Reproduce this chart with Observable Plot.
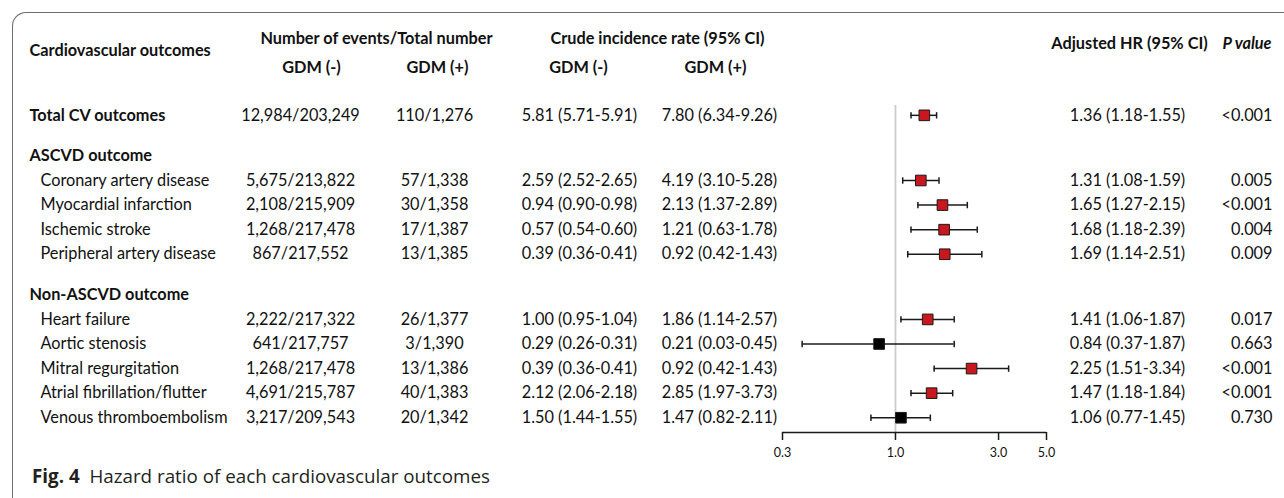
<!DOCTYPE html>
<html>
<head>
<meta charset="utf-8">
<script src="https://cdn.jsdelivr.net/npm/d3@7"></script>
<script src="https://cdn.jsdelivr.net/npm/@observablehq/plot@0.6"></script>
<style>
  html, body { margin: 0; padding: 0; background: #fff; width: 1284px; height: 498px; overflow: hidden; }
  #frame { position: absolute; left: 12px; top: 12px; width: 1400px; height: 620px;
           border-top: 1.5px solid #6b6b6b; border-left: 1.5px solid #6b6b6b; border-top-left-radius: 14px; }
  #chart { position: absolute; left: 0; top: 0; }
  #caption { position: absolute; left: 32px; top: 463px; font-family: "Open Sans", sans-serif; font-size: 18.8px; color: #231f20; white-space: pre; }
  #caption b { font-weight: 700; }
</style>
</head>
<body>
<div id="frame"></div>
<div id="chart"></div>
<div id="caption"><b>Fig. 4</b>  Hazard ratio of each cardiovascular outcomes</div>
<script>
// ---------- data ----------
const labels = ["Total CV outcomes", "ASCVD outcome", "Coronary artery disease", "Myocardial infarction",
  "Ischemic stroke", "Peripheral artery disease", "Non-ASCVD outcome", "Heart failure", "Aortic stenosis",
  "Mitral regurgitation", "Atrial fibrillation/flutter", "Venous thromboembolism"];
const kinds = ["total", "header", "item", "item", "item", "item", "header", "item", "item", "item", "item", "item"];
const eventsNeg = ["12,984/203,249", "", "5,675/213,822", "2,108/215,909", "1,268/217,478", "867/217,552", "",
  "2,222/217,322", "641/217,757", "1,268/217,478", "4,691/215,787", "3,217/209,543"];
const eventsPos = ["110/1,276", "", "57/1,338", "30/1,358", "17/1,387", "13/1,385", "",
  "26/1,377", "3/1,390", "13/1,386", "40/1,383", "20/1,342"];
const crudeNeg = ["5.81 (5.71-5.91)", "", "2.59 (2.52-2.65)", "0.94 (0.90-0.98)", "0.57 (0.54-0.60)", "0.39 (0.36-0.41)", "",
  "1.00 (0.95-1.04)", "0.29 (0.26-0.31)", "0.39 (0.36-0.41)", "2.12 (2.06-2.18)", "1.50 (1.44-1.55)"];
const crudePos = ["7.80 (6.34-9.26)", "", "4.19 (3.10-5.28)", "2.13 (1.37-2.89)", "1.21 (0.63-1.78)", "0.92 (0.42-1.43)", "",
  "1.86 (1.14-2.57)", "0.21 (0.03-0.45)", "0.92 (0.42-1.43)", "2.85 (1.97-3.73)", "1.47 (0.82-2.11)"];
const hr = [1.36, null, 1.31, 1.65, 1.68, 1.69, null, 1.41, 0.84, 2.25, 1.47, 1.06];
const hrLo = [1.18, null, 1.08, 1.27, 1.18, 1.14, null, 1.06, 0.37, 1.51, 1.18, 0.77];
const hrHi = [1.55, null, 1.59, 2.15, 2.39, 2.51, null, 1.87, 1.87, 3.34, 1.84, 1.45];
const pValues = ["<0.001", "", "0.005", "<0.001", "0.004", "0.009", "", "0.017", "0.663", "<0.001", "<0.001", "0.730"];
const xTicks = [0.3, 1, 3, 5];
const xDomain = [0.3, 5];
const headers = {
  outcome: "Cardiovascular outcomes",
  events: "Number of events/Total number",
  crude: "Crude incidence rate (95% CI)",
  neg: "GDM (-)",
  pos: "GDM (+)",
  hr: "Adjusted HR (95% CI)",
  p: "P value"
};

// ---------- layout (code) ----------
const pos = [];
let p = 0;
kinds.forEach((k, i) => { if (i > 0) p += (k === "header") ? 1.65 : 1; pos.push(p); });
const rows = labels.map((label, i) => ({
  label, kind: kinds[i], y: pos[i],
  evNeg: eventsNeg[i], evPos: eventsPos[i], crNeg: crudeNeg[i], crPos: crudePos[i],
  hr: hr[i], lo: hrLo[i], hi: hrHi[i], p: pValues[i],
  hrText: hr[i] == null ? "" : `${hr[i].toFixed(2)} (${hrLo[i].toFixed(2)}-${hrHi[i].toFixed(2)})`,
  sig: hrLo[i] != null && (hrLo[i] > 1 || hrHi[i] < 1)
}));
const forest = rows.filter(d => d.hr != null);
const boldRows = rows.filter(d => d.kind !== "item");
const itemRows = rows.filter(d => d.kind === "item");
const yMin = pos[0] - 0.4, yMax = pos[pos.length - 1] + 0.6;

const W = 1284, H = 462, MT = 105, MB = 30;
const FONT = "Lato";
const FS = 16.3;
const INK = "#111";

const capSymbol = { draw(ctx, size) { const h = Math.sqrt(size / Math.PI); ctx.moveTo(0, -h); ctx.lineTo(0, h); } };

function header(text, dx, yPix, opts = {}) {
  return Plot.text([text], { text: d => d, frameAnchor: "top-left", dx, dy: yPix - MT,
    fontWeight: "bold", fontSize: FS, fill: INK, ...opts });
}

const chart = Plot.plot({
  width: W, height: H,
  marginTop: MT, marginBottom: MB, marginLeft: 0, marginRight: 0,
  style: { fontFamily: FONT, fontSize: FS + "px", color: INK, background: "transparent" },
  x: { type: "log", domain: xDomain, range: [782, 1046] },
  y: { domain: [yMin, yMax], reverse: true, axis: null },
  marks: [
    Plot.ruleX([1], { stroke: "#cccccc", strokeWidth: 1.8 }),
    Plot.ruleY([yMax], { x1: xDomain[0], x2: xDomain[1], stroke: "#1a1a1a", strokeWidth: 1.5 }),
    Plot.axisX({ ticks: xTicks, tickFormat: d3.format(".1f"), tickSize: 8, tickPadding: 8,
      fontSize: 12.5, label: null, anchor: "bottom", stroke: "#1a1a1a", strokeWidth: 1.5 }),
    // error bars
    Plot.ruleY(forest, { y: "y", x1: "lo", x2: "hi", stroke: "#1a1a1a", strokeWidth: 1.5 }),
    Plot.dot(forest, { x: "lo", y: "y", symbol: capSymbol, r: 3.2, fill: "none", stroke: "#1a1a1a", strokeWidth: 1.5 }),
    Plot.dot(forest, { x: "hi", y: "y", symbol: capSymbol, r: 3.2, fill: "none", stroke: "#1a1a1a", strokeWidth: 1.5 }),
    Plot.dot(forest, { x: "hr", y: "y", symbol: "square", r: 6,
      fill: d => d.sig ? "#c8171e" : "#000000", stroke: "#1a1a1a", strokeWidth: 1 }),
    // table columns
    Plot.text(boldRows, { y: "y", text: "label", frameAnchor: "left", dx: 29, textAnchor: "start", fontWeight: "bold", fontSize: FS, fill: INK }),
    Plot.text(itemRows, { y: "y", text: "label", frameAnchor: "left", dx: 40, textAnchor: "start", fontSize: FS, fill: INK }),
    Plot.text(rows, { y: "y", text: "evNeg", frameAnchor: "left", dx: 300, textAnchor: "middle", fontSize: FS, fill: INK }),
    Plot.text(rows, { y: "y", text: "evPos", frameAnchor: "left", dx: 434, textAnchor: "middle", fontSize: FS, fill: INK }),
    Plot.text(rows, { y: "y", text: "crNeg", frameAnchor: "left", dx: 579, textAnchor: "middle", fontSize: FS, fill: INK }),
    Plot.text(rows, { y: "y", text: "crPos", frameAnchor: "left", dx: 719, textAnchor: "middle", fontSize: FS, fill: INK }),
    Plot.text(rows, { y: "y", text: "hrText", frameAnchor: "left", dx: 1127, textAnchor: "middle", fontSize: FS, fill: INK }),
    Plot.text(rows, { y: "y", text: "p", frameAnchor: "left", dx: 1272, textAnchor: "end", fontSize: FS, fill: INK }),
    // column headers
    header(headers.outcome, 29, 44, { textAnchor: "start" }),
    header(headers.events, 376, 32, { textAnchor: "middle" }),
    header(headers.neg, 311, 61, { textAnchor: "middle" }),
    header(headers.pos, 437, 61, { textAnchor: "middle" }),
    header(headers.crude, 657, 32, { textAnchor: "middle" }),
    header(headers.neg, 578, 61, { textAnchor: "middle" }),
    header(headers.pos, 715, 61, { textAnchor: "middle" }),
    header(headers.hr, 1129, 37, { textAnchor: "middle" }),
    header(headers.p, 1222, 37, { textAnchor: "start", fontStyle: "italic" })
  ]
});
document.getElementById("chart").appendChild(chart);
</script>
</body>
</html>
